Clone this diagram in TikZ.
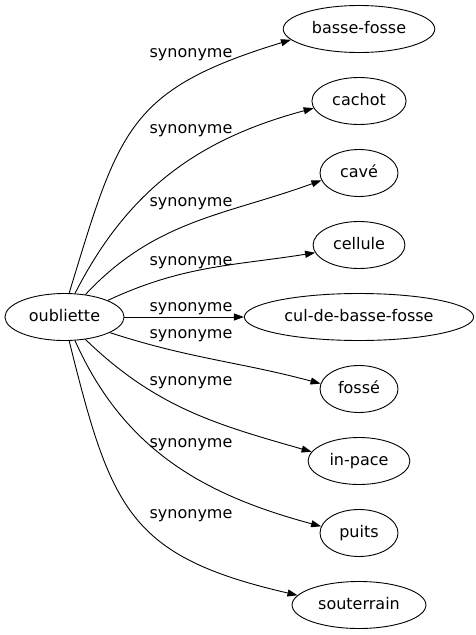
\documentclass[tikz,border=0pt]{standalone}
\usepackage{fontspec}
\setmainfont{DejaVu Sans}
\usetikzlibrary{shapes.geometric,arrows.meta}
\begin{document}
\begin{tikzpicture}[x=1pt, y=1pt, font=\fontsize{16}{19}\selectfont,
    word/.style={ellipse, draw, line width=0.9pt, inner xsep=6.5pt, inner ysep=0pt,
      text height=12pt, text depth=4pt, minimum height=47pt, minimum width=78pt},
    syn/.style={anchor=base, inner sep=0pt},
    >={Triangle[length=10pt, width=7pt]}]
  \useasboundingbox (0,0) rectangle (475,-635);
  \node[word] (oub) at (64.5,-317) {oubliette};
  \node[word] (bf) at (359,-29) {basse-fosse};
  \node[word] (cach) at (359,-101) {cachot};
  \node[word] (cave) at (359,-173) {cavé};
  \node[word] (cell) at (359,-245) {cellule};
  \node[word] (cul) at (359,-317) {cul-de-basse-fosse};
  \node[word] (foss) at (359,-389) {fossé};
  \node[word] (inp) at (359,-461) {in-pace};
  \node[word] (puits) at (359,-533) {puits};
  \node[word] (sout) at (359,-605) {souterrain};
  \node[syn] (s1) at (191,-57.5) {synonyme};
  \node[syn] (s2) at (191,-133.5) {synonyme};
  \node[syn] (s3) at (191,-206.5) {synonyme};
  \node[syn] (s4) at (191,-265.5) {synonyme};
  \node[syn] (s5) at (191,-311.5) {synonyme};
  \node[syn] (s6) at (191,-338.5) {synonyme};
  \node[syn] (s7) at (191,-385.5) {synonyme};
  \node[syn] (s8) at (191,-447.5) {synonyme};
  \node[syn] (s9) at (191,-518.5) {synonyme};
  \draw[->, line width=0.9pt] (oub.79) to[out=73, in=197, looseness=1.3] (bf.189);
  \draw[->, line width=0.9pt] (oub.66) to[out=63, in=195] (cach.189);
  \draw[->, line width=0.9pt] (oub.47) to[out=47, in=200] (cave.191);
  \draw[->, line width=0.9pt] (oub.21) to[out=25, in=189] (cell.190);
  \draw[->, line width=0.9pt] (oub) -- (cul);
  \draw[->, line width=0.9pt] (oub.341) to[out=-18, in=165] (foss.172);
  \draw[->, line width=0.9pt] (oub.313) to[out=-44, in=164] (inp.169);
  \draw[->, line width=0.9pt] (oub.294) to[out=-66, in=165] (puits.170);
  \draw[->, line width=0.9pt] (oub.281) to[out=-76, in=167, looseness=1.3] (sout.171);
\end{tikzpicture}
\end{document}
